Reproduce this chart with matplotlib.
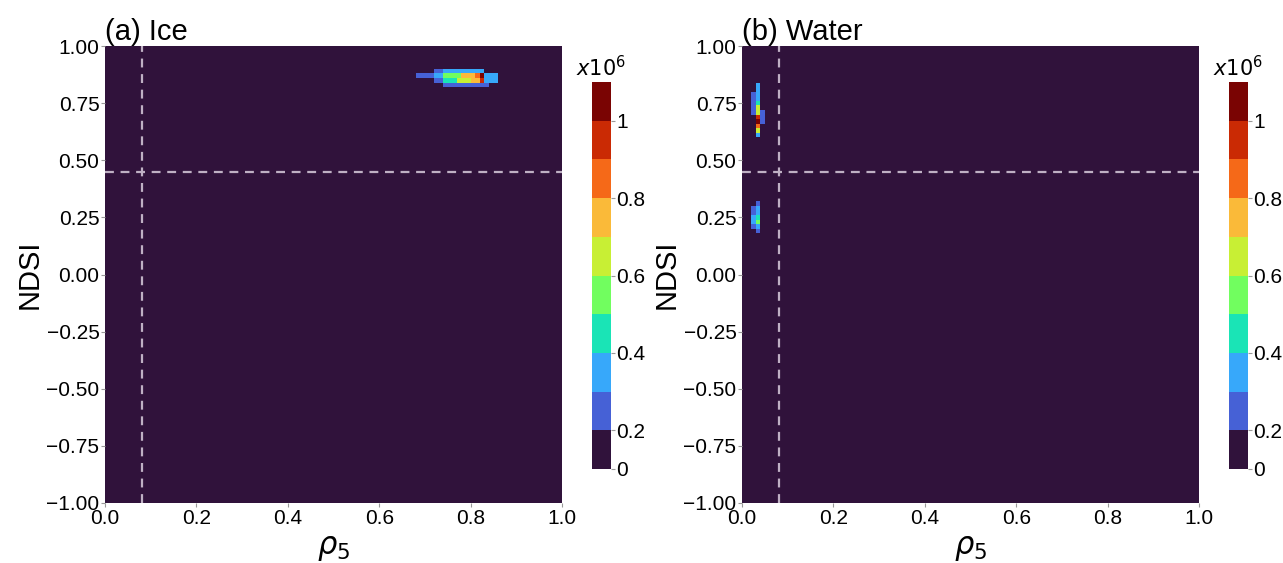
import numpy as np
import matplotlib
matplotlib.use('Agg')
import matplotlib.pyplot as plt
from matplotlib.colors import BoundaryNorm

plt.rcParams['font.family'] = ['Liberation Sans', 'DejaVu Sans']

# 直方圖的格子: rho5 0~1 (0.01), NDSI -1~1 (0.02)
x_edges = np.linspace(0, 1, 101)
y_edges = np.linspace(-1, 1, 101)

# 非零的格子 (單位 x10^6), 每列由上到下, 左下角為 (x0, y0)
ice_x0, ice_y0 = 0.68, 0.82
ice_counts = [
    [0, 0, 0, 0, 0.25, 0.25, 0.35, 0.35, 0.35, 0.35, 0.35, 0.35, 0.35, 0.35, 0.35, 0, 0, 0],
    [0.25, 0.25, 0.25, 0.25, 0.35, 0.35, 0.55, 0.55, 0.55, 0.55, 0.75, 0.75, 0.75, 0.85, 1.05, 0.35, 0.35, 0.35],
    [0, 0, 0, 0, 0.25, 0.25, 0.45, 0.45, 0.45, 0.65, 0.65, 0.65, 0.75, 0.75, 0.95, 0.35, 0.35, 0.35],
    [0, 0, 0, 0, 0, 0, 0.25, 0.25, 0.25, 0.25, 0.25, 0.25, 0.25, 0.25, 0.25, 0.25, 0, 0],
]

water_x0, water_y0 = 0.02, 0.60
water_counts = [
    [0, 0.35, 0],
    [0, 0.35, 0],
    [0.25, 0.35, 0],
    [0.25, 0.35, 0],
    [0.25, 0.45, 0],
    [0.25, 0.65, 0],
    [0.25, 0.65, 0.25],
    [0, 0.95, 0.25],
    [0, 1.05, 0.25],
    [0, 0.85, 0],
    [0, 0.65, 0],
    [0, 0.35, 0],
]

water2_x0, water2_y0 = 0.02, 0.18
water2_counts = [[0, 0.25], [0.25, 0.35], [0.25, 0.35], [0.35, 0.45], [0.35, 0.55], [0.25, 0.35], [0, 0.25]]

rho5_thr = 0.08
ndsi_thr = 0.45

levels = [0, 0.2, 0.3, 0.4, 0.5, 0.6, 0.7, 0.8, 0.9, 1.0, 1.1]
cbar_ticks = [0, 0.2, 0.4, 0.6, 0.8, 1.0]
ndsi_ticks = np.arange(-1, 1.01, 0.25)


def make_grid(patches):
    H = np.zeros((len(y_edges) - 1, len(x_edges) - 1))
    for x0, y0, counts in patches:
        c = np.array(counts)[::-1]
        i0 = int(round((y0 - y_edges[0]) / (y_edges[1] - y_edges[0])))
        j0 = int(round((x0 - x_edges[0]) / (x_edges[1] - x_edges[0])))
        H[i0:i0 + c.shape[0], j0:j0 + c.shape[1]] = c
    return H


cmap = plt.get_cmap('turbo', 10)
norm = BoundaryNorm(levels, cmap.N)

W, Hpx = 1283, 563
fig = plt.figure(figsize=(W / 100, Hpx / 100), dpi=100)

panels = [
    ('(a) Ice', [(ice_x0, ice_y0, ice_counts)], 105, 592),
    ('(b) Water', [(water_x0, water_y0, water_counts), (water2_x0, water2_y0, water2_counts)], 742, 1229),
]

for title, patches, left, cb_left in panels:
    ax = fig.add_axes([left / W, 60 / Hpx, 457 / W, 457 / Hpx])
    grid = make_grid(patches)
    mesh = ax.pcolormesh(x_edges, y_edges, grid, cmap=cmap, norm=norm)
    ax.axvline(rho5_thr, color='#bfb0c4', ls=(0, (4, 3)), lw=1.6)
    ax.axhline(ndsi_thr, color='#bfb0c4', ls=(0, (4, 3)), lw=1.6)
    ax.set_xlim(0, 1)
    ax.set_ylim(-1, 1)
    ax.set_xticks([0, 0.2, 0.4, 0.6, 0.8, 1.0])
    ax.set_yticks(ndsi_ticks)
    ax.set_yticklabels([('%.2f' % v).replace('-', '\u2212') for v in ndsi_ticks])
    ax.tick_params(labelsize=15, color='#999999', length=3, pad=1)
    for s in ax.spines.values():
        s.set_visible(False)
    ax.set_title(title, loc='left', fontsize=21, pad=2)
    ax.set_xlabel(r'$\rho_5$', fontsize=22, labelpad=4)
    ax.set_ylabel('NDSI', fontsize=21, labelpad=2)

    cax = fig.add_axes([cb_left / W, 94 / Hpx, 19 / W, 387 / Hpx])
    cb = fig.colorbar(mesh, cax=cax, spacing='uniform', ticks=cbar_ticks)
    cb.minorticks_off()
    cb.ax.set_yticklabels(['%g' % t for t in cbar_ticks])
    cb.ax.tick_params(labelsize=15, length=3, color='#999999', pad=1)
    cb.outline.set_visible(False)
    cax.set_title(r'$x10^6$', fontsize=15, pad=4)

fig.savefig('out.png', dpi=100)
